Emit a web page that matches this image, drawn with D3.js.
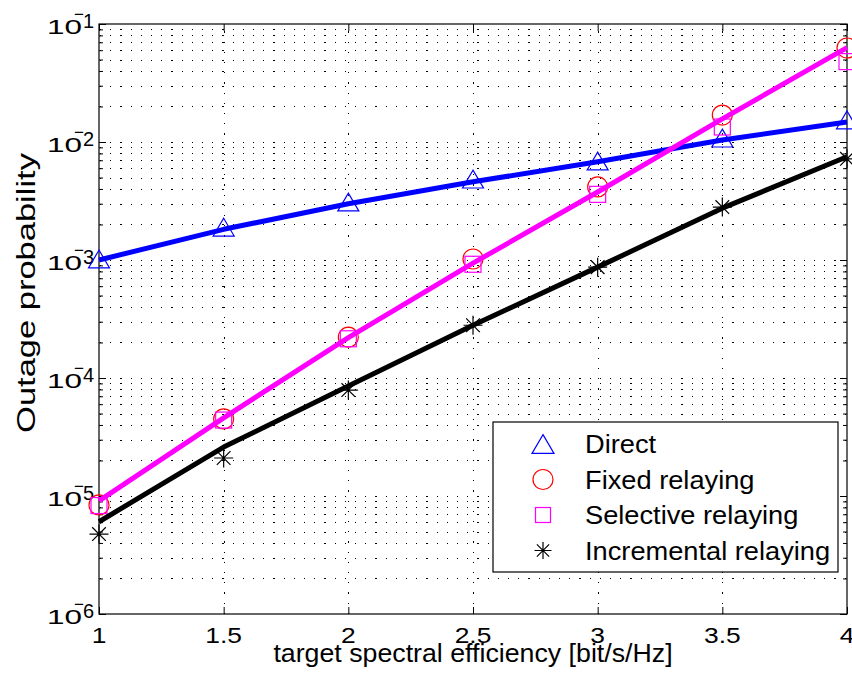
<!DOCTYPE html>
<html><head><meta charset="utf-8">
<script src="https://cdn.jsdelivr.net/npm/d3@7"></script>
<style>body{margin:0;background:#fff} svg{display:block;font-family:"Liberation Sans",Arial,sans-serif}</style>
</head><body><svg id="c" width="852" height="674"></svg>
<script>
// ---- data ----
const rates = [1, 1.5, 2, 2.5, 3, 3.5, 4];
// simulated points (markers)
const directSim      = [1.02e-3, 1.9e-3, 3.1e-3, 4.85e-3, 6.9e-3, 1.08e-2, 1.54e-2];
const fixedSim       = [8.4e-6, 4.5e-5, 2.22e-4, 1.02e-3, 4.16e-3, 1.69e-2, 6.26e-2];
const selectiveSim   = [8.3e-6, 4.4e-5, 2.15e-4, 9.2e-4, 3.6e-3, 1.34e-2, 4.8e-2];
const incrementalSim = [4.76e-6, 2.1e-5, 7.9e-5, 2.8e-4, 8.7e-4, 2.81e-3, 7.2e-3];
// analytic curves (lines)
const directTheory      = [1.0e-3, 1.82e-3, 3.0e-3, 4.6e-3, 6.8e-3, 1.04e-2, 1.48e-2];
const relayTheory       = [9.1e-6, 4.6e-5, 2.2e-4, 9.4e-4, 3.77e-3, 1.57e-2, 6.3e-2];
const incrementalTheory = [6.05e-6, 2.6e-5, 8.55e-5, 2.8e-4, 8.7e-4, 2.75e-3, 7.5e-3];
// ticks
const xTicks = [1, 1.5, 2, 2.5, 3, 3.5, 4];
const xTickLabels = ["1", "1.5", "2", "2.5", "3", "3.5", "4"];
const yDecades = [1e-6, 1e-5, 1e-4, 1e-3, 1e-2, 1e-1];
const yTickExps = ["6", "5", "4", "3", "2", "1"];
const legendLabels = ["Direct", "Fixed relaying", "Selective relaying", "Incremental relaying"];
const xLabel = "target spectral efficiency [bit/s/Hz]";
const yLabel = "Outage probability";

// ---- layout ----
const L = 99, R = 847, T = 24, B = 614;
const svg = d3.select("#c");
const x = d3.scaleLinear().domain([1, 4]).range([L, R]);
const y = d3.scaleLog().domain([1e-6, 1e-1]).range([B, T]);
const allY = y.ticks();

function sText(parent, tx, ty, str, size, sx, anchor) {
  return parent.append("text")
    .attr("transform", `translate(${tx},${ty}) scale(${sx},1)`)
    .attr("text-anchor", anchor || "start")
    .attr("font-size", size)
    .attr("fill", "#000")
    .text(str);
}

// grid
const grid = svg.append("g").attr("stroke", "#000").attr("stroke-width", 1)
  .attr("stroke-dasharray", "1.2,9").attr("shape-rendering", "crispEdges");
grid.selectAll("line.h").data(allY.filter(v => v > 1.0001e-6 && v < 0.0999))
  .join("line").attr("x1", L + 1).attr("x2", R)
  .attr("y1", d => Math.round(y(d)) + 0.5).attr("y2", d => Math.round(y(d)) + 0.5);
grid.selectAll("line.v").data(xTicks.slice(1, -1))
  .join("line").attr("y1", B).attr("y2", T)
  .attr("x1", d => Math.round(x(d)) + 0.5).attr("x2", d => Math.round(x(d)) + 0.5);

// axes (inward ticks)
const minorY = allY.filter(v => !yDecades.some(d => Math.abs(d - v) / d < 1e-6));
function styleAxis(g) { g.select(".domain").remove(); g.selectAll(".tick line").attr("stroke", "#000"); g.selectAll(".tick text").remove(); }
svg.append("g").attr("transform", `translate(${L},0)`).call(d3.axisLeft(y).tickValues(yDecades).tickSize(-7).tickFormat("")).call(styleAxis);
svg.append("g").attr("transform", `translate(${L},0)`).call(d3.axisLeft(y).tickValues(minorY).tickSize(-4).tickFormat("")).call(styleAxis);
svg.append("g").attr("transform", `translate(${R},0)`).call(d3.axisRight(y).tickValues(yDecades).tickSize(-7).tickFormat("")).call(styleAxis);
svg.append("g").attr("transform", `translate(${R},0)`).call(d3.axisRight(y).tickValues(minorY).tickSize(-4).tickFormat("")).call(styleAxis);
svg.append("g").attr("transform", `translate(0,${B})`).call(d3.axisBottom(x).tickValues(xTicks).tickSize(-7).tickFormat("")).call(styleAxis);
svg.append("g").attr("transform", `translate(0,${T})`).call(d3.axisTop(x).tickValues(xTicks).tickSize(-7).tickFormat("")).call(styleAxis);

// box
svg.append("rect").attr("x", L).attr("y", T).attr("width", R - L).attr("height", B - T)
  .attr("fill", "none").attr("stroke", "#000").attr("stroke-width", 1.2);

// tick labels
xTicks.forEach((v, i) => sText(svg, x(v), 643, xTickLabels[i], 22, 1.2, "middle"));
yDecades.forEach((v, i) => {
  const ty = y(v);
  const t = svg.append("text").attr("x", 47).attr("y", ty + 10).attr("fill", "#000");
  t.append("tspan").attr("font-size", 21).attr("textLength", 35)
    .attr("lengthAdjust", "spacingAndGlyphs").text("10");
  t.append("tspan").attr("font-size", 17).attr("dx", -8).attr("dy", -13.7).text("\u2212");
  t.append("tspan").attr("font-size", 20).attr("dx", -1).attr("dy", 7.2).text(yTickExps[i]);
});

// axis labels
sText(svg, (L + R) / 2, 662, xLabel, 25, 1.07, "middle");
svg.append("text").attr("transform", `translate(35,293) rotate(-90) scale(1.38,1)`)
  .attr("text-anchor", "middle").attr("font-size", 25).text(yLabel);

// markers
function marker(g, type, cx, cy, color, s) {
  if (type === "tri") {
    const h = s * 0.85, w = s;
    g.append("path").attr("d", `M${cx},${cy - h / 2}L${cx + w / 2},${cy + h / 2}L${cx - w / 2},${cy + h / 2}Z`)
      .attr("fill", "none").attr("stroke", color).attr("stroke-width", 1.2);
  } else if (type === "circ") {
    g.append("circle").attr("cx", cx).attr("cy", cy).attr("r", s / 2)
      .attr("fill", "none").attr("stroke", color).attr("stroke-width", 1.2);
  } else if (type === "sq") {
    g.append("rect").attr("x", cx - s / 2).attr("y", cy - s / 2).attr("width", s).attr("height", s)
      .attr("fill", "none").attr("stroke", color).attr("stroke-width", 1.2);
  } else if (type === "star") {
    const r = s / 2, d = r * 0.72;
    g.append("path").attr("d", `M${cx - r},${cy}H${cx + r}M${cx},${cy - r}V${cy + r}M${cx - d},${cy - d}L${cx + d},${cy + d}M${cx - d},${cy + d}L${cx + d},${cy - d}`)
      .attr("fill", "none").attr("stroke", color).attr("stroke-width", 1.2);
  }
}
const mk = svg.append("g");
const simSeries = [
  { vals: directSim, type: "tri", color: "#0000ff", size: 21 },
  { vals: fixedSim, type: "circ", color: "#ff0000", size: 20 },
  { vals: selectiveSim, type: "sq", color: "#ff00ff", size: 16 },
  { vals: incrementalSim, type: "star", color: "#000000", size: 19 }
];
simSeries.forEach(s => s.vals.forEach((v, i) => marker(mk, s.type, x(rates[i]), y(v), s.color, s.size)));

// lines
const line = d3.line().x((d, i) => x(rates[i])).y(d => y(d));
[[directTheory, "#0000ff"], [incrementalTheory, "#000000"], [relayTheory, "#ff00ff"]].forEach(([vals, c]) => {
  svg.append("path").attr("d", line(vals)).attr("fill", "none").attr("stroke", c)
    .attr("stroke-width", 5).attr("stroke-linejoin", "round");
});

// legend
const lg = svg.append("g");
lg.append("rect").attr("x", 493).attr("y", 422).attr("width", 345).attr("height", 150)
  .attr("fill", "#fff").attr("stroke", "#000").attr("stroke-width", 1.2);
const lgTypes = [["tri", "#0000ff", 22], ["circ", "#ff0000", 20], ["sq", "#ff00ff", 15], ["star", "#000000", 17]];
legendLabels.forEach((lab, i) => {
  const cy = 444 + i * 35.5;
  marker(lg, lgTypes[i][0], 543, cy, lgTypes[i][1], lgTypes[i][2]);
  sText(lg, 585, cy + 9, lab, 25, 1.09, "start");
});
</script></body></html>
